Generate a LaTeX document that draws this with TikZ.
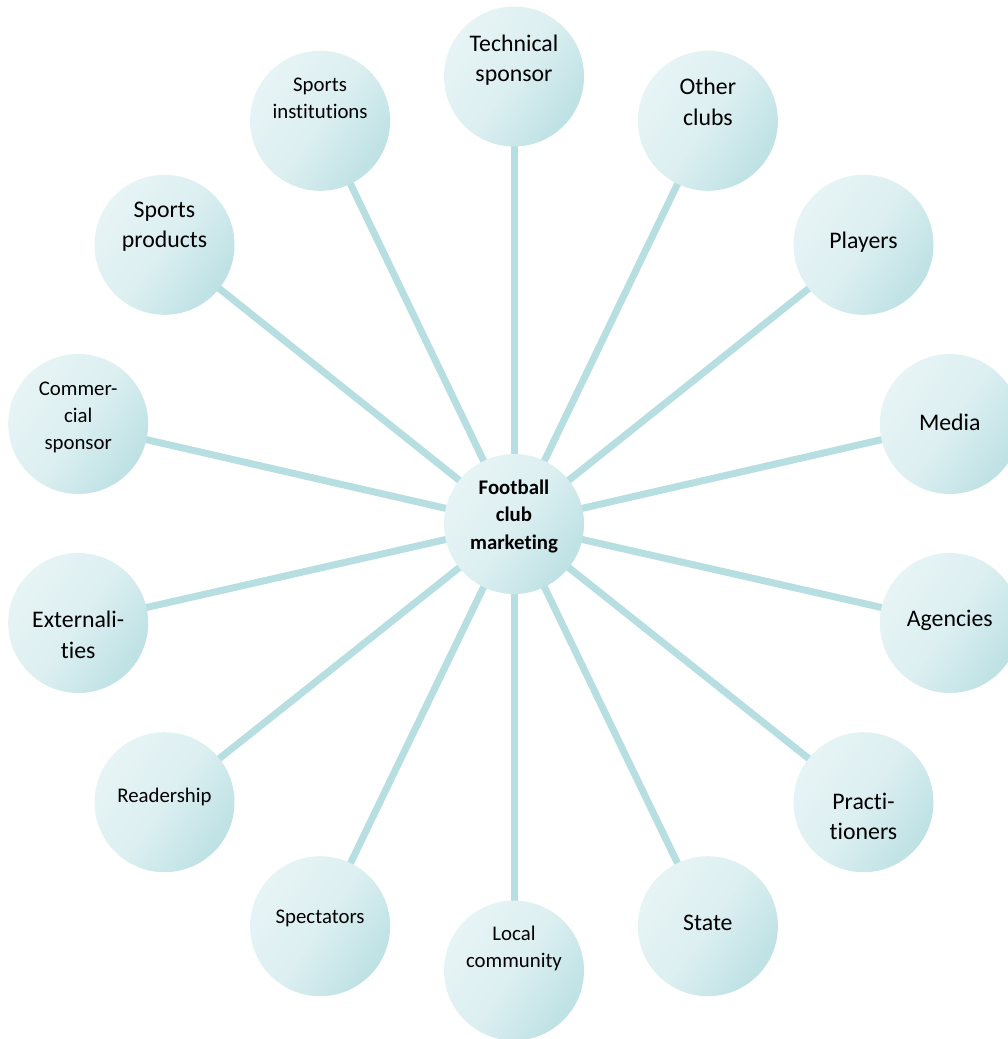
\documentclass[tikz,border=0pt]{standalone}
\usepackage{fontspec}
\setmainfont{Carlito}[RawFeature={-liga;-clig;-calt}]
\usetikzlibrary{backgrounds}
% break the font's "ti" ligature
\newcommand\nl{\kern0pt{}}
\definecolor{bubLight}{HTML}{E7F4F5}
\definecolor{bubMid}{HTML}{DCEFF1}
\definecolor{bubDark}{HTML}{BDE1E4}
\definecolor{spoke}{HTML}{B7DEE1}
\tikzset{
  bubble/.style={circle, minimum size=140pt, inner sep=0pt,
    top color=bubLight, bottom color=bubDark, middle color=bubMid, shading angle=55},
  bigtxt/.style={align=center, inner sep=0pt, font=\fontsize{23.8}{30.5}\selectfont},
  smalltxt/.style={align=center, inner sep=0pt, font=\fontsize{20.8}{27}\selectfont},
  hubtxt/.style={align=center, inner sep=0pt, font=\fontsize{20.8}{27.5}\selectfont\bfseries},
  spokeline/.style={draw=spoke, line width=7pt}
}
\begin{document}
\begin{tikzpicture}[x=1pt, y=-1pt]
\useasboundingbox (0,0) rectangle (1008,1039);
\clip (0,0) rectangle (1008,1039);

% hub
\node[bubble] (hub) at (514,524) {};
\node[hubtxt] at ([yshift=8pt]hub.center) {Football\\club\\marke\nl ting};

% surrounding bubbles
\node[bubble] (tech)   at (514,76.5)    {};
\node[bubble] (other)  at (707.9,120.8) {};
\node[bubble] (play)   at (863.5,244.8) {};
\node[bubble] (media)  at (949.8,424.0) {};
\node[bubble] (agen)   at (949.8,623.0) {};
\node[bubble] (pract)  at (863.5,802.2) {};
\node[bubble] (state)  at (707.9,926.2) {};
\node[bubble] (local)  at (514,970.5)   {};
\node[bubble] (spect)  at (320.1,926.2) {};
\node[bubble] (read)   at (164.5,802.2) {};
\node[bubble] (ext)    at (78.2,623.0)  {};
\node[bubble] (comm)   at (78.2,424.0)  {};
\node[bubble] (prod)   at (164.5,244.8) {};
\node[bubble] (inst)   at (320.1,120.8) {};

% labels
\node[bigtxt]   at ([yshift=16.5pt]tech.center)  {Technical\\sponsor};
\node[bigtxt]   at ([yshift=19pt]other.center)   {Other\\clubs};
\node[bigtxt]   at ([yshift=3pt]play.center)     {Players};
\node[bigtxt]   at ([yshift=2pt]media.center)    {Media};
\node[bigtxt]   at ([yshift=3pt]agen.center)     {Agencies};
\node[bigtxt]   at ([yshift=-14pt]pract.center)  {Pract\nl i-\\t\nl ioners};
\node[bigtxt]   at ([yshift=3pt]state.center)    {State};
\node[smalltxt] at ([yshift=22pt]local.center)   {Local\\community};
\node[smalltxt] at ([yshift=8pt]spect.center)    {Spectators};
\node[smalltxt] at ([yshift=5pt]read.center)     {Readership};
\node[bigtxt]   at ([yshift=-12pt]ext.center)    {Externali-\\t\nl ies};
\node[smalltxt] at ([yshift=7pt]comm.center)     {Commer-\\cial\\sponsor};
\node[bigtxt]   at ([yshift=18pt]prod.center)    {Sports\\products};
\node[smalltxt] at ([yshift=22pt]inst.center)    {Sports\\inst\nl it\nl ut\nl ions};

% spokes behind the bubbles
\begin{scope}[on background layer]
  \foreach \n in {tech,other,play,media,agen,pract,state,local,spect,read,ext,comm,prod,inst}
    \draw[spokeline] (hub.center) -- (\n.center);
\end{scope}
\end{tikzpicture}
\end{document}
